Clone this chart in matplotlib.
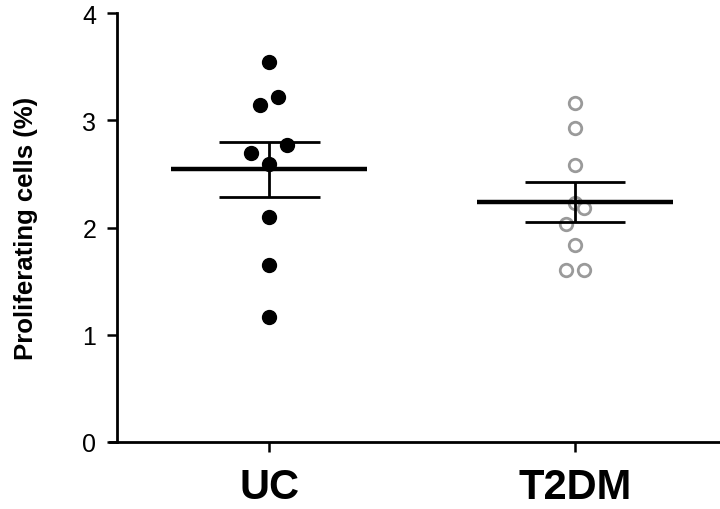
import numpy as np
import matplotlib
matplotlib.use("Agg")
import matplotlib.pyplot as plt

plt.rcParams['font.family'] = ['Liberation Sans', 'DejaVu Sans']

# data
groups = ['UC', 'T2DM']
uc_values = [3.54, 3.22, 3.14, 2.77, 2.69, 2.59, 2.10, 1.65, 1.17]
t2dm_values = [3.16, 2.93, 2.58, 2.23, 2.18, 2.03, 1.84, 1.60, 1.60]
# horizontal scatter (jitter) of the dots, in category units
uc_jitter = [0, 0.03, -0.03, 0.06, -0.06, 0, 0, 0, 0]
t2dm_jitter = [0, 0, 0, 0, 0.03, -0.03, 0, -0.03, 0.03]
yticks = [0, 1, 2, 3, 4]

fig = plt.figure(figsize=(7.2, 5.1), dpi=100)
ax = fig.add_axes([110 / 720, 67 / 510, 610 / 720, 429 / 510])

# spines first: moving a spine resets the ticks
for s in ['top', 'right']:
    ax.spines[s].set_visible(False)
ax.spines['left'].set_position(('axes', 0.0115))
ax.spines['left'].set_linewidth(2)
ax.spines['bottom'].set_linewidth(2)

# UC: filled black dots
ax.plot(np.array(uc_jitter) + 0, uc_values, 'o', color='black',
        markersize=10, zorder=3)
# T2DM: open grey dots
ax.plot(np.array(t2dm_jitter) + 1, t2dm_values, 'o', markerfacecolor='white',
        markeredgecolor='#9a9a9a', markeredgewidth=2, markersize=9, zorder=3)

# mean +/- SEM
for i, vals in enumerate([uc_values, t2dm_values]):
    v = np.array(vals)
    m = v.mean()
    sem = v.std(ddof=1) / np.sqrt(len(v))
    ax.hlines(m, i - 0.32, i + 0.32, color='black', linewidth=3.2, zorder=4)
    ax.hlines([m - sem, m + sem], i - 0.165, i + 0.165, color='black',
              linewidth=2, zorder=4)
    ax.vlines(i, m - sem, m + sem, color='black', linewidth=2, zorder=4)

ax.set_xlim(-0.52, 1.474)
ax.set_ylim(0, 4)
ax.set_xticks([0, 1])
ax.set_xticklabels(groups, fontsize=30, fontweight='bold')
ax.set_yticks(yticks)
ax.set_yticklabels([str(t) for t in yticks], fontsize=18)
ax.set_ylabel('Proliferating cells (%)', fontsize=18.5, fontweight='bold',
              labelpad=32)

ax.tick_params(axis='y', length=7, width=1.8, pad=8)
ax.tick_params(axis='x', length=7, width=1.8, pad=11)

fig.savefig('out.png', dpi=100)
